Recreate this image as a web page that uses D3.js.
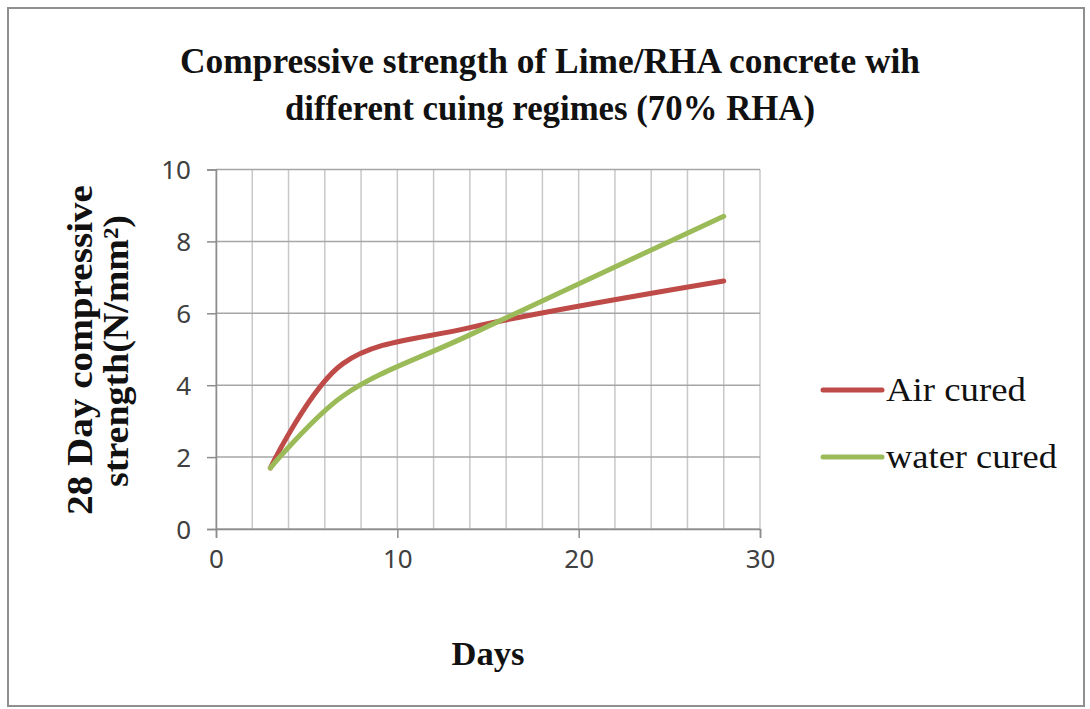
<!DOCTYPE html>
<html>
<head>
<meta charset="utf-8">
<script src="https://cdn.jsdelivr.net/npm/d3@7"></script>
<style>
  html, body { margin: 0; padding: 0; background: #ffffff; }
  svg { display: block; }
</style>
</head>
<body>
<svg id="chart" width="1090" height="709"></svg>
<script>
// Curing ages (days) and strengths (N/mm²) for the 70% RHA mix
const days = [3, 7, 14, 28];
const airCured = [1.7, 4.6, 5.6, 6.9];
const waterCured = [1.7, 3.7, 5.4, 8.7];
const seriesNames = ["Air cured", "water cured"];
const seriesColors = ["#BE4B48", "#9BBB59"];
const xTicks = [0, 10, 20, 30];
const xGrid = [0, 2, 4, 6, 8, 10, 12, 14, 16, 18, 20, 22, 24, 26, 28, 30];
const yTicks = [0, 2, 4, 6, 8, 10];
const titleLines = ["Compressive strength of Lime/RHA concrete wih", "different cuing regimes (70% RHA)"];
const yTitleLines = ["28 Day compressive", "strength(N/mm²)"];
const xTitle = "Days";

const svg = d3.select("#chart");
const serif = "'Liberation Serif', 'DejaVu Serif', serif";
const sans = "'Noto Sans', 'Open Sans', sans-serif";

// outer frame
svg.append("rect")
  .attr("x", 8).attr("y", 8).attr("width", 1076).attr("height", 698)
  .attr("fill", "#ffffff").attr("stroke", "#8f8f8f").attr("stroke-width", 2);

const x = d3.scaleLinear().domain([0, 30]).range([216, 760]);
const y = d3.scaleLinear().domain([0, 10]).range([529, 169.5]);

// grid
const grid = svg.append("g");
grid.selectAll("line.v").data(xGrid).join("line")
  .attr("class", "v")
  .attr("x1", d => x(d)).attr("x2", d => x(d))
  .attr("y1", y(0)).attr("y2", y(10))
  .attr("stroke", "#c8c8c8").attr("stroke-width", 1.5);
grid.selectAll("line.h").data(yTicks).join("line")
  .attr("class", "h")
  .attr("x1", x(0)).attr("x2", x(30))
  .attr("y1", d => y(d)).attr("y2", d => y(d))
  .attr("stroke", "#a6a6a6").attr("stroke-width", 1.5);

// axes
const xAxis = svg.append("g")
  .attr("transform", `translate(0,${y(0)})`)
  .call(d3.axisBottom(x).tickValues(xTicks).tickSize(9).tickPadding(12).tickFormat(d3.format("d")));
const yAxis = svg.append("g")
  .attr("transform", `translate(${x(0)},0)`)
  .call(d3.axisLeft(y).tickValues(yTicks).tickSize(9).tickPadding(16).tickFormat(d3.format("d")));
[xAxis, yAxis].forEach(ax => {
  ax.select(".domain").attr("stroke", "#8c8c8c").attr("stroke-width", 1.5);
  ax.selectAll(".tick line").attr("stroke", "#8c8c8c").attr("stroke-width", 1.5);
  ax.selectAll(".tick text")
    .attr("fill", "#404040")
    .style("font-family", sans)
    .style("font-size", "26px");
});
yAxis.selectAll(".tick text").attr("dy", "0.36em");

// series
const line = d3.line()
  .x(d => x(d[0]))
  .y(d => y(d[1]))
  .curve(d3.curveCatmullRom.alpha(0.5));
const series = [airCured, waterCured];
series.forEach((vals, i) => {
  svg.append("path")
    .datum(days.map((dd, j) => [dd, vals[j]]))
    .attr("d", line)
    .attr("fill", "none")
    .attr("stroke", seriesColors[i])
    .attr("stroke-width", 5)
    .attr("stroke-linecap", "round")
    .attr("stroke-linejoin", "round");
});

// text helper with fitted width
function label(g, txt, opts) {
  const t = g.append("text")
    .attr("x", opts.x).attr("y", opts.y)
    .attr("text-anchor", opts.anchor || "middle")
    .attr("fill", "#111111")
    .style("font-family", serif)
    .style("font-size", opts.size + "px")
    .style("font-weight", opts.weight || "normal")
    .text(txt);
  if (opts.len) t.attr("textLength", opts.len).attr("lengthAdjust", "spacingAndGlyphs");
  if (opts.transform) t.attr("transform", opts.transform);
  return t;
}

// title
label(svg, titleLines[0], { x: 550, y: 73, size: 36, weight: "bold", len: 740 });
label(svg, titleLines[1], { x: 550, y: 120, size: 36, weight: "bold", len: 530 });

// y-axis title (two rotated lines)
label(svg, yTitleLines[0], { x: 0, y: 0, size: 36, weight: "bold", len: 330,
  transform: "translate(92,350) rotate(-90)" });
label(svg, yTitleLines[1], { x: 0, y: 0, size: 36, weight: "bold", len: 272,
  transform: "translate(128,351) rotate(-90)" });

// x-axis title
label(svg, xTitle, { x: 488, y: 665, size: 34, weight: "bold", len: 73 });

// legend
const legendY = [390, 457];
const legendLen = [140, 171];
seriesNames.forEach((name, i) => {
  svg.append("line")
    .attr("x1", 823).attr("x2", 882)
    .attr("y1", legendY[i]).attr("y2", legendY[i])
    .attr("stroke", seriesColors[i]).attr("stroke-width", 5)
    .attr("stroke-linecap", "round");
  label(svg, name, { x: 886, y: legendY[i] + 11, size: 34, anchor: "start", len: legendLen[i] });
});
</script>
</body>
</html>
